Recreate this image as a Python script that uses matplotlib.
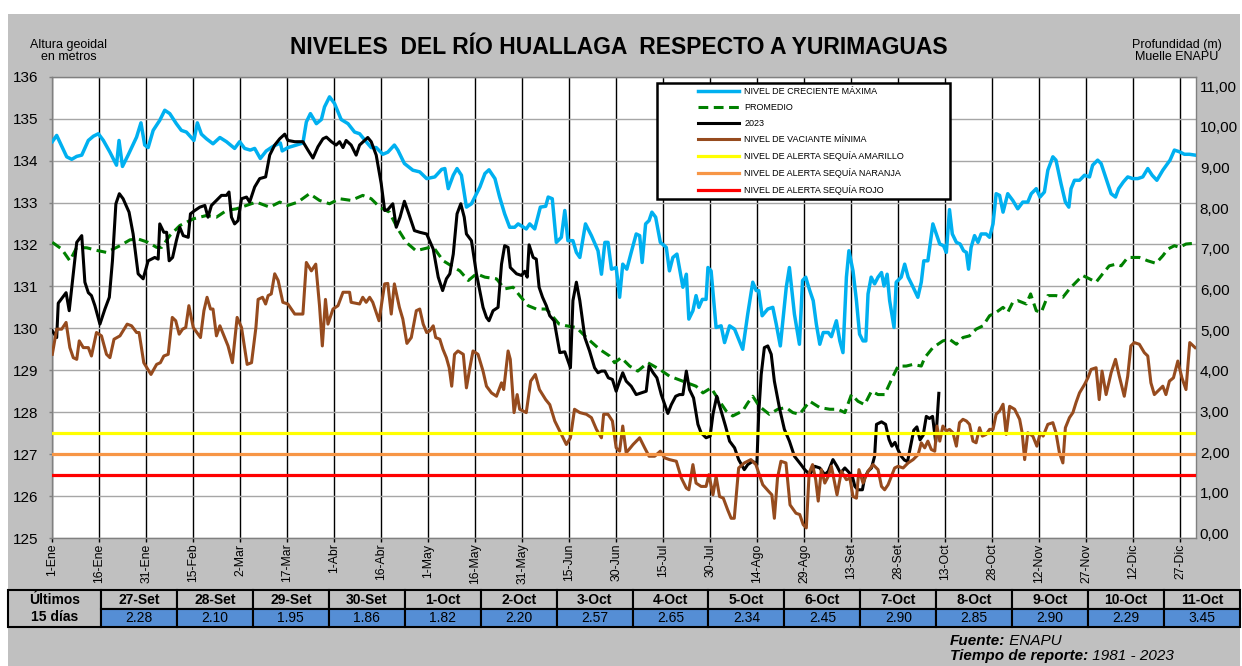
import matplotlib.pyplot as plt
from matplotlib.patches import Rectangle
from matplotlib.ticker import FuncFormatter
from datetime import date

plt.rcParams['font.family'] = ['Liberation Sans', 'DejaVu Sans']

# Datos: (dia del año desde 1-Ene, cota en m)
nivel_maximo = [
    (0, 134.45), (1.4, 134.6), (4.6, 134.09), (6.2, 134.03), (7.8, 134.1), (9.4, 134.13), (11.5, 134.48),
    (13.1, 134.58), (14.7, 134.64), (16.3, 134.48), (18.4, 134.2), (20.5, 133.89), (21.3, 134.48),
    (22.4, 133.86), (24.2, 134.13), (26.9, 134.56), (28.3, 134.9), (29.5, 134.37), (30.6, 134.31),
    (32.2, 134.72), (34.3, 134.96), (35.9, 135.2), (37.5, 135.12), (39.6, 134.88), (41.2, 134.72),
    (42.8, 134.68), (45.2, 134.48), (46.3, 134.9), (47.6, 134.63), (49.2, 134.52), (51.3, 134.4),
    (53.5, 134.55), (55.6, 134.45), (58.2, 134.29), (59.8, 134.45), (61.4, 134.29), (63.2, 134.25),
    (64.6, 134.29), (66.4, 134.05), (68.3, 134.23), (70.5, 134.34), (72.8, 134.42), (73.4, 134.23),
    (75.2, 134.31), (77.9, 134.37), (80.0, 134.42), (81.1, 134.92), (82.4, 135.12), (84.3, 134.88),
    (85.9, 134.98), (86.9, 135.28), (88.5, 135.52), (90.1, 135.36), (92.2, 134.98), (94.4, 134.88),
    (96.5, 134.68), (98.1, 134.64), (100.2, 134.45), (101.8, 134.31), (103.4, 134.31), (105.5, 134.15),
    (107.1, 134.2), (109.2, 134.37), (110.3, 134.25), (112.4, 133.93), (115.1, 133.77),
    (117.3, 133.73), (119.5, 133.57), (122.1, 133.61), (124.3, 133.79), (125.3, 133.81), (126.4, 133.33),
    (128.0, 133.65), (129.2, 133.81), (130.6, 133.65), (132.2, 132.89), (133.8, 132.97), (136.5, 133.37),
    (138.1, 133.69), (139.4, 133.78), (141.3, 133.57), (142.8, 133.13), (144.4, 132.73), (146.0, 132.41),
    (147.6, 132.41), (148.7, 132.49), (151.3, 132.37), (152.4, 132.49), (154.0, 132.37), (155.8, 132.89),
    (157.5, 132.91), (158.3, 133.13), (159.6, 133.09), (160.9, 132.05), (162.5, 132.17), (163.6, 132.81),
    (164.6, 132.09), (166.2, 132.09), (167.3, 131.81), (168.4, 131.69), (170.2, 132.49), (172.1, 132.21),
    (174.2, 131.85), (175.3, 131.29), (176.4, 132.05), (177.4, 132.05), (178.5, 131.41), (180.0, 131.45),
    (181.1, 130.74), (182.1, 131.53), (183.4, 131.41), (184.8, 131.81), (186.4, 132.25), (187.5, 132.21),
    (188.3, 131.57), (189.4, 132.49), (190.5, 132.57), (191.4, 132.77), (192.6, 132.65), (194.1, 132.05),
    (196.0, 131.93), (197.0, 131.37), (198.1, 131.69), (199.4, 131.77), (201.3, 130.98), (202.4, 131.29),
    (203.2, 130.22), (204.5, 130.42), (205.5, 130.78), (206.4, 130.5), (207.5, 130.69), (208.7, 130.69),
    (209.3, 131.45), (210.3, 131.37), (211.9, 130.02), (213.5, 130.06), (214.6, 129.66), (216.2, 130.06),
    (217.8, 129.98), (219.1, 129.74), (220.4, 129.5), (222.0, 130.34), (223.6, 131.1), (224.7, 130.9),
    (225.5, 130.9), (226.6, 130.3), (228.4, 130.46), (230.0, 130.5), (231.1, 130.1), (232.4, 129.58),
    (234.3, 130.98), (235.3, 131.45), (236.9, 130.34), (238.5, 129.62),
    (239.5, 131.14), (240.5, 131.22), (241.8, 130.9), (242.9, 130.66), (243.9, 130.1), (245.0, 129.62),
    (246.1, 129.9), (247.7, 129.9), (248.7, 129.8), (250.3, 130.18), (251.4, 129.7), (252.4, 129.42),
    (253.5, 131.22), (254.3, 131.85), (255.6, 131.37), (256.7, 130.66), (257.7, 129.86), (258.8, 129.7),
    (259.7, 129.7), (260.4, 130.82), (261.4, 131.22), (262.5, 131.06), (263.6, 131.22), (264.7, 131.33),
    (265.5, 131.01), (266.5, 131.29), (267.3, 130.66), (268.7, 130.02), (269.4, 131.1), (271.0, 131.22),
    (272.1, 131.53), (273.2, 131.22), (274.8, 130.98), (276.3, 130.74), (277.4, 131.1), (278.2, 131.61),
    (279.5, 131.61), (281.1, 132.49), (282.2, 132.25), (283.3, 132.01), (284.5, 131.97), (285.4, 131.81),
    (286.4, 132.83), (287.3, 132.25), (288.6, 132.05), (289.8, 132.01), (290.9, 131.85), (291.8, 131.81),
    (292.5, 131.41), (293.3, 131.93), (294.4, 132.21), (295.5, 132.05), (296.5, 132.25), (298.1, 132.25),
    (299.2, 132.17), (300.3, 132.49), (301.3, 133.21), (302.4, 133.17), (303.5, 132.77), (305.0, 133.21),
    (306.6, 133.05), (308.2, 132.85), (309.8, 133.01), (311.4, 133.01), (312.5, 133.21), (314.1, 133.33),
    (315.3, 133.13), (316.7, 133.25), (317.8, 133.77), (319.4, 134.09), (320.4, 134.01), (322.0, 133.45),
    (323.4, 133.01), (324.5, 132.89), (325.2, 133.33), (326.3, 133.53), (327.9, 133.53), (329.5, 133.65),
    (331.1, 133.61), (332.1, 133.89), (333.7, 134.01), (334.8, 133.93), (336.4, 133.57), (338.0, 133.21),
    (339.4, 133.13), (340.4, 133.33), (341.9, 133.49), (343.3, 133.61), (344.9, 133.57), (346.5, 133.57),
    (348.1, 133.61), (349.7, 133.81), (351.1, 133.65), (352.6, 133.53), (354.5, 133.77), (356.8, 134.01),
    (358.2, 134.25), (359.8, 134.21), (361.4, 134.15), (363.0, 134.15), (364.8, 134.13),
]

promedio = [
    (0, 132.05), (3.0, 131.89), (5.6, 131.61), (7.8, 131.93), (11.0, 131.92), (14.7, 131.85), (17.3, 131.81),
    (21.6, 131.97), (24.8, 132.11), (27.4, 132.13), (30.6, 132.05), (33.3, 131.93), (34.9, 131.93),
    (37.5, 132.21), (40.7, 132.45), (45.0, 132.61), (49.2, 132.69), (52.4, 132.65), (55.6, 132.81),
    (58.8, 132.85), (62.0, 132.93), (65.1, 133.01), (69.4, 132.89), (72.6, 133.01), (75.2, 132.93),
    (78.4, 133.01), (82.1, 133.21), (85.3, 133.05), (88.5, 132.97), (91.7, 133.09), (95.4, 133.05),
    (99.1, 133.17), (101.8, 133.09), (104.5, 132.89), (107.6, 132.77), (110.3, 132.37), (113.0, 132.05),
    (116.1, 131.85), (120.5, 131.93), (122.1, 131.89), (124.8, 131.61), (127.4, 131.49), (130.1, 131.37),
    (132.8, 131.14), (135.4, 131.3), (138.1, 131.22), (141.8, 131.18), (144.4, 130.94), (147.1, 130.98),
    (149.2, 130.78), (151.9, 130.54), (154.5, 130.46), (157.7, 130.46), (161.8, 130.1), (164.1, 130.06),
    (167.3, 130.02), (170.5, 129.78), (174.7, 129.5), (177.9, 129.34), (179.5, 129.18), (181.6, 129.3),
    (184.3, 129.1), (186.9, 128.98), (190.1, 129.18), (193.9, 129.02), (197.0, 128.86), (201.3, 128.74),
    (203.4, 128.68), (205.5, 128.62), (207.7, 128.46), (210.3, 128.58), (213.0, 128.26), (215.1, 128.03),
    (217.2, 127.91), (220.4, 128.03), (222.0, 128.22), (223.6, 128.38), (225.7, 128.14), (228.9, 127.95),
    (231.6, 128.07), (234.2, 128.11), (236.4, 127.99), (238.5, 127.95), (241.8, 128.26), (245.0, 128.11),
    (248.2, 128.07), (250.8, 128.07), (253.0, 127.99), (255.1, 128.42), (257.2, 128.26), (259.3, 128.18),
    (261.5, 128.5), (263.6, 128.42), (265.7, 128.42), (268.4, 128.86), (270.0, 129.1), (272.6, 129.1),
    (274.8, 129.14), (277.4, 129.1), (278.5, 129.3), (281.1, 129.54), (284.3, 129.7), (286.4, 129.74),
    (288.6, 129.62), (290.7, 129.78), (292.8, 129.82), (294.9, 129.98), (297.1, 130.06), (299.2, 130.3),
    (301.3, 130.38), (303.5, 130.5), (305.0, 130.38), (306.6, 130.62), (308.2, 130.66), (310.9, 130.58),
    (312.3, 130.82), (314.1, 130.42), (315.7, 130.38), (317.8, 130.78), (320.4, 130.78), (322.6, 130.74),
    (324.7, 130.94), (326.8, 131.1), (328.9, 131.26), (331.1, 131.18), (333.2, 131.1), (335.3, 131.3),
    (337.4, 131.49), (339.6, 131.53), (341.2, 131.49), (343.3, 131.69), (344.9, 131.69), (347.0, 131.69),
    (349.7, 131.61), (352.3, 131.55), (354.5, 131.73), (356.1, 131.89), (358.2, 131.97), (359.8, 131.93),
    (361.9, 132.01), (364.8, 132.03),
]

nivel_2023 = [
    (0, 129.94), (1.4, 129.78), (1.9, 130.6), (4.4, 130.85), (5.4, 130.42), (6.7, 131.3), (7.8, 132.05),
    (9.4, 132.21), (10.4, 131.1), (11.5, 130.85), (12.5, 130.78), (13.6, 130.54), (15.2, 130.1),
    (16.8, 130.46), (18.2, 130.74), (19.2, 131.61), (20.3, 132.97), (21.4, 133.21), (22.6, 133.09),
    (24.5, 132.77), (25.8, 132.25), (27.4, 131.3), (29.0, 131.18), (30.6, 131.61), (32.7, 131.69),
    (33.8, 131.65), (34.3, 132.49), (35.6, 132.29), (36.5, 132.29), (37.3, 131.61), (38.4, 131.69),
    (39.6, 132.09), (40.7, 132.41), (41.8, 132.21), (43.4, 132.17), (44.1, 132.73), (45.5, 132.81),
    (47.1, 132.89), (48.7, 132.93), (49.7, 132.65), (50.8, 132.93), (52.4, 133.05), (54.0, 133.17),
    (55.6, 133.17), (56.4, 133.25), (57.2, 132.65), (58.2, 132.49), (59.3, 132.57), (60.4, 133.09),
    (62.0, 133.13), (63.0, 133.01), (64.6, 133.37), (66.2, 133.57), (68.1, 133.61), (69.4, 134.13),
    (71.0, 134.37), (72.6, 134.52), (74.2, 134.63), (75.2, 134.48), (77.4, 134.45), (80.0, 134.45),
    (81.6, 134.25), (83.2, 134.06), (84.8, 134.33), (86.4, 134.52), (87.5, 134.56), (89.1, 134.45),
    (90.6, 134.37), (91.7, 134.45), (92.8, 134.31), (93.8, 134.48), (95.4, 134.37), (97.0, 134.13),
    (98.1, 134.37), (99.7, 134.48), (100.7, 134.55), (101.8, 134.45), (103.4, 134.13), (105.0, 133.45),
    (106.1, 132.81), (107.1, 132.83), (108.7, 132.97), (109.8, 132.41), (111.0, 132.65), (112.4, 133.03),
    (113.8, 132.73), (115.6, 132.33), (117.3, 132.29), (119.5, 132.25), (121.6, 131.89), (123.2, 131.22),
    (124.6, 130.9), (125.8, 131.18), (126.9, 131.3), (128.0, 131.77), (129.2, 132.73), (130.4, 132.97),
    (131.5, 132.65), (132.2, 132.25), (133.8, 132.09), (135.4, 131.3), (137.5, 130.5), (138.6, 130.26),
    (139.4, 130.18), (140.7, 130.42), (142.3, 130.5), (143.4, 131.53), (144.4, 131.97), (145.5, 131.93),
    (146.2, 131.45), (148.2, 131.3), (149.8, 131.26), (150.8, 131.36), (151.6, 131.22), (152.2, 131.99),
    (153.5, 131.69), (154.5, 131.65), (155.4, 130.98), (156.5, 130.74), (157.7, 130.54), (158.8, 130.3),
    (160.2, 130.18), (162.0, 129.42), (163.6, 129.44), (165.4, 129.06), (166.2, 130.66), (167.3, 131.1),
    (168.4, 130.66), (170.0, 129.78), (171.5, 129.46), (173.1, 129.06), (174.2, 128.94), (175.3, 128.98),
    (176.4, 128.98), (177.5, 128.82), (178.8, 128.78), (180.0, 128.5), (181.1, 128.74), (182.1, 128.94),
    (183.2, 128.74), (184.8, 128.62), (186.4, 128.42), (188.0, 128.46), (189.6, 128.5), (190.5, 129.1),
    (191.8, 128.94), (193.0, 128.82), (194.4, 128.42), (196.5, 127.97), (197.6, 128.18), (199.0, 128.38),
    (200.2, 128.42), (201.3, 128.42), (202.4, 128.98), (203.4, 128.54), (204.7, 128.34), (206.1, 127.71),
    (207.1, 127.51), (208.7, 127.39), (210.0, 127.43), (210.9, 127.95), (212.1, 128.38), (213.5, 128.03),
    (214.9, 127.67), (216.2, 127.31), (217.8, 127.15), (219.1, 126.87), (220.9, 126.63), (222.0, 126.75),
    (223.6, 126.83), (224.9, 126.75), (225.5, 127.95), (226.3, 128.9), (227.3, 129.54), (228.4, 129.58),
    (229.5, 129.38), (230.5, 128.74), (232.1, 128.11), (233.7, 127.59), (235.3, 127.31), (236.9, 126.95),
    (239.0, 126.75), (240.2, 126.63), (241.8, 126.51), (243.4, 126.71), (245.0, 126.67), (246.6, 126.51),
    (247.7, 126.59), (249.2, 126.87), (250.5, 126.71), (251.6, 126.55), (253.0, 126.67), (254.0, 126.59),
    (255.4, 126.47), (256.2, 126.23), (257.2, 126.15), (258.6, 126.15), (259.3, 126.43), (260.4, 126.59),
    (261.5, 126.67), (262.5, 126.95), (263.1, 127.71), (264.7, 127.77), (266.0, 127.71), (267.1, 127.35),
    (268.0, 127.19),
]

nivel_minimo = [
    (0, 129.38), (1.4, 129.98), (3.0, 129.98), (4.4, 130.14), (5.6, 129.54), (6.7, 129.3), (7.8, 129.26),
    (8.6, 129.7), (9.9, 129.54), (11.5, 129.54), (12.5, 129.34), (14.1, 129.9), (15.7, 129.82),
    (17.3, 129.38), (18.4, 129.3), (19.7, 129.74), (21.6, 129.82), (23.9, 130.1), (25.3, 130.06),
    (26.9, 129.9), (27.7, 129.9), (29.2, 129.18), (31.5, 128.9), (33.3, 129.14), (34.5, 129.18),
    (35.6, 129.34), (37.0, 129.38), (38.3, 130.26), (39.4, 130.18), (40.5, 129.86), (41.6, 129.98),
    (42.6, 130.02), (43.6, 130.54), (45.0, 130.02), (47.3, 129.78), (48.4, 130.42), (49.4, 130.74),
    (50.5, 130.46), (51.3, 130.46), (52.4, 129.82), (53.5, 130.06), (55.0, 129.78), (56.1, 129.58),
    (57.5, 129.18), (59.0, 130.26), (60.4, 130.02), (62.2, 129.14), (63.6, 129.18), (65.0, 130.02),
    (65.7, 130.69), (67.1, 130.74), (68.1, 130.58), (68.9, 130.78), (69.9, 130.82), (71.0, 131.3),
    (72.1, 131.14), (73.6, 130.62), (75.2, 130.58), (77.4, 130.34), (80.0, 130.34), (81.1, 131.57),
    (82.7, 131.37), (84.1, 131.53), (85.3, 130.54), (86.2, 129.58), (87.2, 130.69), (88.0, 130.1),
    (89.6, 130.46), (91.2, 130.54), (92.8, 130.86), (94.9, 130.86), (95.4, 130.62), (98.1, 130.58),
    (99.1, 130.74), (100.2, 130.62), (101.3, 130.74), (102.3, 130.62), (104.3, 130.18), (106.1, 131.06),
    (107.1, 131.07), (108.2, 130.34), (109.2, 131.06), (110.8, 130.5), (111.9, 130.22), (113.2, 129.64),
    (114.6, 129.78), (116.2, 130.42), (117.3, 130.46), (118.4, 130.1), (119.5, 129.9), (120.5, 129.94),
    (121.6, 130.06), (122.4, 129.78), (123.7, 129.74), (124.7, 129.5), (125.8, 129.3), (126.7, 129.06),
    (127.5, 128.62), (128.4, 129.38), (129.5, 129.46), (131.2, 129.38), (132.2, 128.58), (133.3, 129.06),
    (134.3, 129.46), (135.9, 129.38), (137.5, 128.98), (138.6, 128.62), (140.2, 128.46), (141.8, 128.38),
    (143.4, 128.7), (144.1, 128.54), (145.5, 129.46), (146.2, 129.26), (147.4, 127.99), (148.4, 128.42),
    (149.2, 128.07), (151.3, 127.99), (152.7, 128.74), (154.2, 128.9), (155.5, 128.54), (157.5, 128.3),
    (158.8, 128.18), (160.4, 127.79), (162.0, 127.55), (164.1, 127.23), (165.4, 127.39), (166.7, 128.07),
    (168.4, 127.99), (170.5, 127.95), (172.1, 127.87), (173.7, 127.59), (175.3, 127.39), (176.0, 127.95),
    (177.4, 127.95), (178.8, 127.79), (180.0, 127.15), (181.1, 127.07), (182.1, 127.67), (183.2, 127.03),
    (185.4, 127.23), (187.5, 127.39), (189.1, 127.15), (190.5, 126.95), (192.3, 126.95), (194.1, 127.07),
    (195.5, 126.91), (197.0, 126.87), (199.2, 126.83), (200.8, 126.43), (202.4, 126.19), (203.2, 126.15),
    (204.5, 126.75), (205.5, 126.31), (207.1, 126.23), (208.7, 126.23), (209.6, 126.51), (210.9, 126.03),
    (211.9, 126.47), (213.0, 125.99), (214.2, 125.95), (215.6, 125.67), (216.7, 125.47), (217.7, 125.47),
    (219.1, 126.67), (220.9, 126.79), (223.0, 126.87), (224.6, 126.75), (226.8, 126.27), (228.7, 126.11),
    (229.7, 126.03), (230.5, 125.47), (231.5, 126.43), (232.6, 126.83), (234.2, 126.79), (235.5, 125.79),
    (237.4, 125.59), (238.6, 125.56), (239.7, 125.32), (240.7, 125.24), (241.6, 126.55), (242.7, 126.75),
    (243.7, 126.39), (244.5, 125.88), (245.5, 126.63), (246.6, 126.31), (247.7, 126.47), (248.7, 126.71),
    (250.5, 126.03), (251.9, 126.59), (253.5, 126.39), (254.6, 126.43), (255.6, 125.99), (256.7, 125.95),
    (257.5, 126.63), (258.8, 126.31), (260.4, 126.59), (262.0, 126.75), (263.6, 126.63), (264.7, 126.23),
    (265.7, 126.15), (266.8, 126.27), (268.9, 126.67), (270.0, 126.71), (271.6, 126.67), (273.2, 126.79),
    (274.8, 126.87), (276.4, 126.99), (277.4, 127.27), (278.5, 127.15), (279.5, 127.31), (280.6, 127.11),
    (281.7, 127.07), (282.4, 127.67), (283.3, 127.31), (284.3, 127.67), (285.4, 127.55), (286.4, 127.59),
    (287.5, 127.51), (288.6, 127.19), (289.6, 127.75), (290.7, 127.83), (291.8, 127.79), (292.8, 127.71),
    (293.9, 127.31), (294.9, 127.27), (296.0, 127.63), (296.9, 127.43), (298.1, 127.47), (299.2, 127.59),
    (300.3, 127.59), (301.3, 127.95), (302.4, 128.03), (303.5, 128.19), (304.5, 127.47), (305.6, 128.14),
    (307.2, 128.07), (308.8, 127.83), (309.6, 127.51), (310.4, 126.87), (311.4, 127.51), (313.0, 127.43),
    (314.3, 127.19), (315.4, 127.51), (316.3, 127.43), (317.8, 127.71), (319.4, 127.75), (320.4, 127.51),
    (321.5, 127.03), (322.6, 126.79), (323.4, 127.63), (324.7, 127.87), (325.8, 127.99), (326.8, 128.23),
    (327.9, 128.46), (329.5, 128.66), (330.6, 128.82), (331.6, 129.02), (333.2, 129.06), (334.2, 128.3),
    (335.1, 128.98), (336.4, 128.42), (338.0, 128.94), (339.4, 129.26), (340.6, 128.86), (342.2, 128.38),
    (343.3, 128.86), (344.3, 129.58), (345.4, 129.66), (347.0, 129.62), (348.6, 129.42), (349.7, 129.34),
    (350.7, 128.7), (351.8, 128.42), (352.9, 128.5), (354.5, 128.62), (355.5, 128.42), (356.6, 128.74),
    (357.9, 128.82), (359.3, 129.22), (360.6, 128.82), (361.9, 128.54), (363.1, 129.66), (364.8, 129.54),
]

# Ultimos 15 dias (profundidad en el muelle, cota cero = 125 m)
fechas_tabla = ['27-Set', '28-Set', '29-Set', '30-Set', '1-Oct', '2-Oct', '3-Oct', '4-Oct',
                '5-Oct', '6-Oct', '7-Oct', '8-Oct', '9-Oct', '10-Oct', '11-Oct']
profundidad_tabla = [2.28, 2.10, 1.95, 1.86, 1.82, 2.20, 2.57, 2.65, 2.34, 2.45, 2.90, 2.85, 2.90, 2.29, 3.45]
cota_cero = 125.0
dia_inicio_tabla = date(2023, 9, 27).timetuple().tm_yday - 1

alerta_amarilla = 127.5
alerta_naranja = 127.0
alerta_roja = 126.5

etiquetas_x = ['1-Ene', '16-Ene', '31-Ene', '15-Feb', '2-Mar', '17-Mar', '1-Abr', '16-Abr', '1-May',
               '16-May', '31-May', '15-Jun', '30-Jun', '15-Jul', '30-Jul', '14-Ago', '29-Ago', '13-Set',
               '28-Set', '13-Oct', '28-Oct', '12-Nov', '27-Nov', '12-Dic', '27-Dic']
dias_x = [15 * i for i in range(len(etiquetas_x))]

# La serie 2023 se completa con los valores de la tabla
serie_2023 = nivel_2023 + [(dia_inicio_tabla + i, cota_cero + p) for i, p in enumerate(profundidad_tabla)]

W, H = 1242, 666
fig = plt.figure(figsize=(W / 100, H / 100), dpi=100)
fig.patch.set_facecolor('white')

# Capa de fondo en pixeles (panel gris, titulos, tabla)
fondo = fig.add_axes([0, 0, 1, 1])
fondo.set_xlim(0, W)
fondo.set_ylim(H, 0)
fondo.axis('off')
fondo.set_zorder(-1)
fondo.add_patch(Rectangle((8, 14), W - 10, H - 14, fc='#c0c0c0', ec='none'))

x0, x1, y0, y1 = 52.3, 1195.7, 76.7, 538
ax = fig.add_axes([x0 / W, 1 - y1 / H, (x1 - x0) / W, (y1 - y0) / H])
ax.set_facecolor('white')


def xy(serie):
    return [d for d, _ in serie], [v for _, v in serie]


ax.plot(*xy(nivel_maximo), color='#00b0f0', lw=2.5, label='NIVEL DE CRECIENTE MÁXIMA', zorder=3)
ax.plot(*xy(promedio), color='#008000', lw=2.2, dashes=(3.2, 1.8), label='PROMEDIO', zorder=3)
ax.plot(*xy(serie_2023), color='black', lw=2.2, label='2023', zorder=3)
ax.plot(*xy(nivel_minimo), color='#964b1e', lw=2.2, label='NIVEL DE VACIANTE MÍNIMA', zorder=3)
ax.axhline(alerta_amarilla, color='#ffff00', lw=2.3, label='NIVEL DE ALERTA SEQUÍA AMARILLO', zorder=4)
ax.axhline(alerta_naranja, color='#f79646', lw=2.3, label='NIVEL DE ALERTA SEQUÍA NARANJA', zorder=4)
ax.axhline(alerta_roja, color='#ff0000', lw=2.3, label='NIVEL DE ALERTA SEQUÍA ROJO', zorder=4)

ax.set_xlim(0, 365)
ax.set_ylim(125, 136)
ax.set_yticks(range(125, 137))
ax.set_xticks(dias_x)
ax.set_xticklabels(etiquetas_x, rotation=90, fontsize=8.8)
ax.tick_params(axis='x', length=3, width=1, pad=1, color='black')
ax.tick_params(axis='y', length=2.5, width=1, pad=7.5, color='#808080', labelsize=11)
ax.grid(axis='y', color='#a6a6a6', lw=1, zorder=1)
ax.grid(axis='x', color='black', lw=1, zorder=1)
ax.set_axisbelow(True)
for s in ax.spines.values():
    s.set_color('#808080')
    s.set_linewidth(1)

ax2 = ax.twinx()
ax2.set_ylim(-0.11, 11.23)
ax2.set_yticks(range(0, 12))
ax2.yaxis.set_major_formatter(FuncFormatter(lambda v, p: f'{v:.2f}'.replace('.', ',')))
ax2.tick_params(axis='y', length=0, pad=3, labelsize=11)
for s in ax2.spines.values():
    s.set_visible(False)

# Leyenda con marco propio
ax.add_patch(Rectangle((0.529, 0.735), 0.256, 0.251, transform=ax.transAxes,
                       fc='white', ec='black', lw=1.8, zorder=5))
leg = ax.legend(loc='upper left', bbox_to_anchor=(0.561, 0.987), frameon=False, fontsize=6.5,
                borderpad=0, handlelength=4.54, handletextpad=0.55, labelspacing=0.78)
leg.set_zorder(6)

# Titulos
fondo.text(619, 48, 'NIVELES  DEL RÍO HUALLAGA  RESPECTO A YURIMAGUAS', ha='center', va='center',
           fontsize=16.5, fontweight='bold')
fondo.text(69, 51, 'Altura geoidal\nen metros', ha='center', va='center', fontsize=9, linespacing=1.05)
fondo.text(1177, 51, 'Profundidad (m)\nMuelle ENAPU', ha='center', va='center', fontsize=9, linespacing=1.05)

# Tabla de los ultimos 15 dias
ty0, ty1, ty2 = 590, 608.5, 627
tx0, tx1, tx2 = 8, 101, 1240
ancho = (tx2 - tx1) / len(fechas_tabla)
fondo.add_patch(Rectangle((tx0, ty0), tx1 - tx0, ty2 - ty0, fc='#c0c0c0', ec='black', lw=1.5))
fondo.text((tx0 + tx1) / 2, (ty0 + ty2) / 2, 'Últimos\n15 días', ha='center', va='center',
           fontsize=10, fontweight='bold', linespacing=1.3)
for i, (f, p) in enumerate(zip(fechas_tabla, profundidad_tabla)):
    xc = tx1 + i * ancho
    fondo.add_patch(Rectangle((xc, ty0), ancho, ty1 - ty0, fc='#c0c0c0', ec='black', lw=1.5))
    fondo.add_patch(Rectangle((xc, ty1), ancho, ty2 - ty1, fc='#558ed5', ec='black', lw=1.5))
    fondo.text(xc + ancho / 2, (ty0 + ty1) / 2 + 0.5, f, ha='center', va='center', fontsize=10,
               fontweight='bold')
    fondo.text(xc + ancho / 2, (ty1 + ty2) / 2 + 0.5, f'{p:.2f}', ha='center', va='center', fontsize=10)

# Fuente
renderer = fig.canvas.get_renderer()


def texto_mixto(x, y, partes):
    for txt, peso in partes:
        t = fondo.text(x, y, txt, fontsize=11, fontstyle='italic', fontweight=peso, va='baseline')
        x += t.get_window_extent(renderer=renderer).width


texto_mixto(950, 645, [('Fuente:', 'bold'), (' ENAPU', 'normal')])
texto_mixto(950, 660, [('Tiempo de reporte:', 'bold'), (' 1981 - 2023', 'normal')])

fig.savefig('out.png', dpi=100)
